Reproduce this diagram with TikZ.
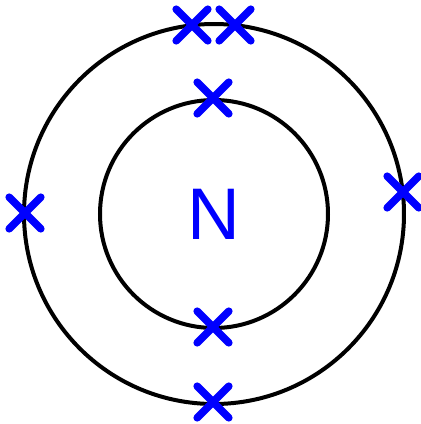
\documentclass[tikz,border=0pt]{standalone}
\usepackage{fontspec}
\setsansfont{Liberation Sans}
\usetikzlibrary{shapes.misc,positioning}

\tikzset{
	shell/.style={draw,line width=0.1cm},
	electron/.style={cross out,draw=blue,line width=0.19cm,line cap=round,
		minimum size=0.6cm,inner sep=0pt}
}

\begin{document}
\begin{tikzpicture}[x=0.025cm,y=-0.025cm]
		
		\useasboundingbox (0,0) rectangle (421,424);
		
		\coordinate (O) at (214,214);
		
		\draw[shell] (O) circle[radius=190*0.025cm];
		\draw[shell] (O) circle[radius=114*0.025cm];
		
		\node[font=\sffamily\fontsize{52}{52}\selectfont,text=blue] (N) at (O) {N};
		
		% inner shell
		\node[electron] (i1) at (213,98) {};
		\node[electron] (i2) at (213,327) {};
		
		% outer shell
		\node[electron] (o1) at (192,25) {};
		\node[electron] (o2) at (235,25) {};
		\node[electron] (o3) at (403,192) {};
		\node[electron] (o4) at (25,213) {};
		\node[electron] (o5) at (213,402) {};
		
	\end{tikzpicture}
\end{document}
